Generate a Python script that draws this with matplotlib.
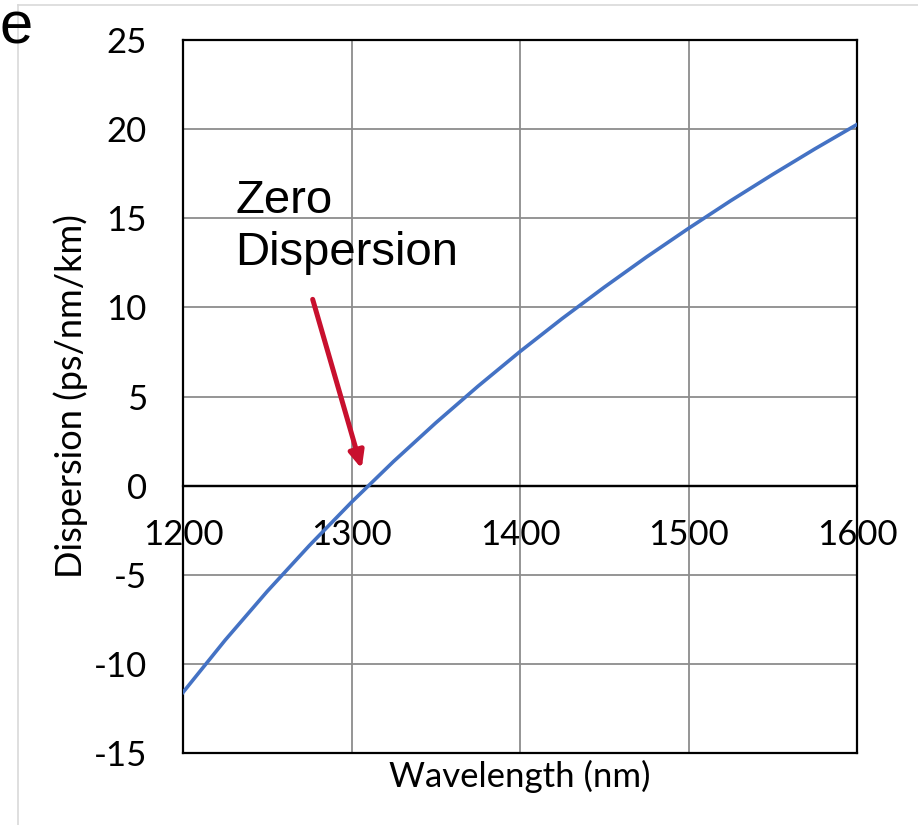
import matplotlib.pyplot as plt
import numpy as np

# wavelength (nm) and dispersion (ps/nm/km)
wavelength = [1200, 1225, 1250, 1275, 1300, 1325, 1350, 1375, 1400,
              1425, 1450, 1475, 1500, 1525, 1550, 1575, 1600]
dispersion = [-11.6, -8.67, -5.93, -3.36, -0.93, 1.36, 3.52, 5.57, 7.52,
              9.37, 11.13, 12.82, 14.43, 15.98, 17.46, 18.89, 20.26]

x_ticks = [1200, 1300, 1400, 1500, 1600]
y_ticks = [-15, -10, -5, 0, 5, 10, 15, 20, 25]

tick_font = "Lato"
plt.rcParams["axes.unicode_minus"] = False

fig = plt.figure(figsize=(9.18, 8.25), dpi=100)
ax = fig.add_axes([183 / 918, 1 - 753 / 825, (857 - 183) / 918, (753 - 40) / 825])

ax.plot(wavelength, dispersion, color="#4472C4", linewidth=2.6, zorder=3)
ax.axhline(0, color="black", linewidth=1.6, zorder=2.5)

ax.set_xlim(1200, 1600)
ax.set_ylim(-15, 25)
ax.set_xticks(x_ticks)
ax.set_yticks(y_ticks)
ax.grid(True, color="#8c8c8c", linewidth=1.3)
ax.set_axisbelow(True)
ax.tick_params(axis="x", length=0, labelbottom=False)
ax.tick_params(axis="y", length=0, pad=26, labelsize=25)
for lab in ax.get_yticklabels():
    lab.set_fontfamily(tick_font)
for sp in ax.spines.values():
    sp.set_color("black")
    sp.set_linewidth(1.6)

# x labels sit under the zero line
sec = ax.secondary_xaxis(15 / 40)
sec.set_xticks(x_ticks)
sec.tick_params(length=0, pad=24, labelsize=25)
for lab in sec.get_xticklabels():
    lab.set_fontfamily(tick_font)
sec.spines["bottom"].set_color("black")
sec.spines["bottom"].set_linewidth(1.6)

ax.set_xlabel("Wavelength (nm)", fontsize=25, fontfamily=tick_font, labelpad=5)
ax.set_ylabel("Dispersion (ps/nm/km)", fontsize=26, fontfamily=tick_font, labelpad=4)

ax.text(1231, 17.2, "Zero\nDispersion", fontsize=34, fontfamily="Liberation Sans",
        va="top", ha="left", linespacing=1.22)
ax.annotate("", xy=(1306.5, 0.8), xytext=(1276.5, 10.6),
            arrowprops=dict(arrowstyle="-|>,head_length=1.0,head_width=0.45",
                            color="#C8102E", linewidth=3.6))

fig.text(-1 / 918, 1 - 28 / 825, "e", fontsize=43, fontfamily="Liberation Sans",
         va="center", ha="left")
fig.add_artist(plt.Line2D([18 / 918, 18 / 918], [0, 1 - 5 / 825], color="#d9d9d9", linewidth=1.2))
fig.add_artist(plt.Line2D([18 / 918, 1], [1 - 5 / 825, 1 - 5 / 825], color="#d9d9d9", linewidth=1.2))

fig.savefig("out.png", dpi=100)
